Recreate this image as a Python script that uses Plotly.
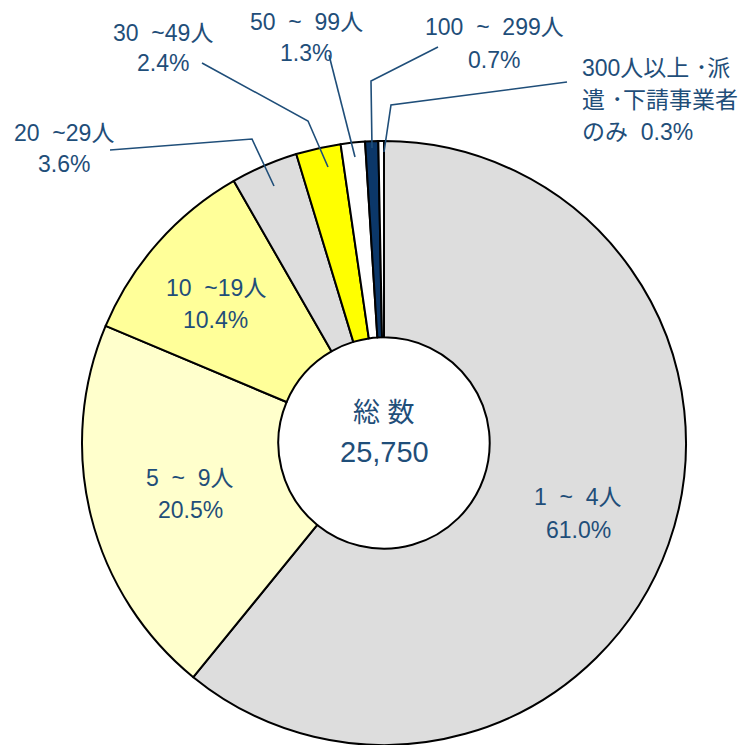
import plotly.graph_objects as go

W, H = 753, 745
OFF = 8  # page body margin offset

S = "\u00a0"
categories = [f"1{S*2}~{S*2}4人", f"5{S*2}~{S*2}9人", f"10{S*2}~19人", f"20{S*2}~29人",
              f"30{S*2}~49人", f"50{S*2}~{S*2}99人", f"100{S*2}~{S*2}299人",
              "300人以上 ･派遣 ･下請事業者のみ"]
percent = [61.0, 20.5, 10.4, 3.6, 2.4, 1.3, 0.7, 0.3]
colors = ["#DDDDDD", "#FFFFCC", "#FFFF99", "#DDDDDD", "#FFFF00",
          "#FFFFFF", "#0B3769", "#FFFFFF"]
total_label = "総 数"
total_value = "25,750"

TXT = "#1F4E79"
FONT = "Liberation Sans, Arial, Noto Sans CJK JP"


def px(x):
    return (x - OFF) / W


def py(y):
    return 1 - (y - OFF) / H


fig = go.Figure(go.Pie(
    labels=categories, values=percent, sort=False, direction="clockwise",
    rotation=0, hole=0.35, textinfo="none", hoverinfo="label+value",
    marker=dict(colors=colors, line=dict(color="#000000", width=2)),
    domain=dict(x=[px(82), px(686)], y=[py(745), py(141)]),
    showlegend=False,
))

pct = [f"{v:.1f}%" for v in percent]
label_specs = [
    ([categories[0], pct[0]], 578, [497, 530], "center"),
    ([categories[1], pct[1]], 190, [478, 510], "center"),
    ([categories[2], pct[2]], 216, [288, 320], "center"),
    ([categories[3], pct[3]], 64, [133, 164], "center"),
    ([categories[4], pct[4]], 163, [33, 63], "center"),
    ([categories[5], pct[5]], 306, [22, 53], "center"),
    ([categories[6], pct[6]], 494, [27, 60], "center"),
    (["300人以上 ･派", "遣 ･下請事業者", "のみ  " + pct[7]], 580, [68, 100, 132], "left"),
]

ann = []
for lines, x, ys, anchor in label_specs:
    for t, y in zip(lines, ys):
        ann.append(dict(x=px(x), y=py(y), xref="paper", yref="paper", text=t,
                        showarrow=False, xanchor=anchor, yanchor="middle",
                        font=dict(size=23, color=TXT, family=FONT)))

ann.append(dict(x=px(384), y=py(413), xref="paper", yref="paper", text=total_label,
                showarrow=False, xanchor="center", yanchor="middle",
                font=dict(size=27, color=TXT, family=FONT)))
ann.append(dict(x=px(384), y=py(452), xref="paper", yref="paper", text=total_value,
                showarrow=False, xanchor="center", yanchor="middle",
                font=dict(size=29, color=TXT, family=FONT)))

leaders = [
    [(110, 150), (252, 139), (274, 186)],
    [(202, 63), (308, 121), (328, 167)],
    [(329, 55), (355, 157)],
    [(438, 47), (371, 81), (372, 148)],
    [(567, 82), (391, 105), (384, 152)],
]
shapes = []
for pts in leaders:
    path = "M " + " L ".join(f"{px(x)},{py(y)}" for x, y in pts)
    shapes.append(dict(type="path", path=path, xref="paper", yref="paper",
                       line=dict(color=TXT, width=1.6)))

fig.update_layout(width=W, height=H, margin=dict(l=0, r=0, t=0, b=0),
                  paper_bgcolor="white", plot_bgcolor="white",
                  annotations=ann, shapes=shapes)

fig.write_html("out.html")
